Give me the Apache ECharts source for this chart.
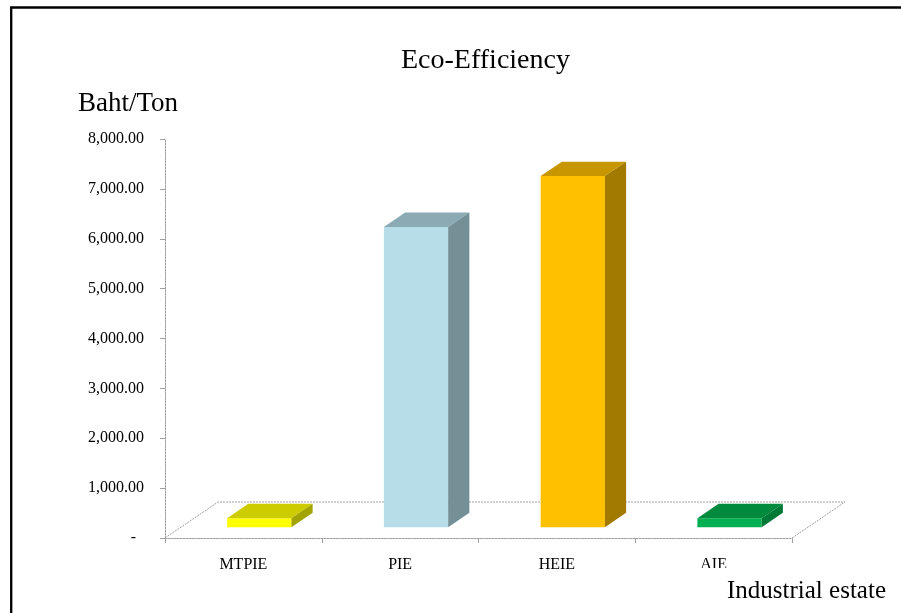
<!DOCTYPE html>
<html>
<head>
<meta charset="utf-8">
<script src="https://cdn.jsdelivr.net/npm/echarts@6.0.0/dist/echarts.min.js"></script>
<style>
  html, body { margin: 0; padding: 0; background: #fff; }
  #main { width: 901px; height: 613px; }
</style>
</head>
<body>
<div id="main"></div>
<script>
// Eco-efficiency per industrial estate (Baht/Ton)
const categories = ['MTPIE', 'PIE', 'HEIE', 'AIE'];
const values = [180, 6020, 7040, 180];
const yMin = 0, yMax = 8000, yStep = 1000;

// front / top / side shading of each column
const faceColors = [
  { front: '#FFFF00', top: '#CCCC00', side: '#A3A300' },
  { front: '#B7DEE8', top: '#8BAAB3', side: '#748F96' },
  { front: '#FFC000', top: '#C89600', side: '#A37A00' },
  { front: '#00B050', top: '#008A3E', side: '#007A36' }
];

const SERIF = '"Liberation Serif", "Times New Roman", serif';
const EDGE = '#a0a0a0';
const DEPTH_X = 53, DEPTH_Y = 36;   // floor depth offset in px
const BAR_D0 = 0.3, BAR_D1 = 0.7;   // column depth span (fraction of floor depth)
const BAR_W = 0.41;                 // column width (fraction of band)

function renderFloor(params, api) {
  const base = api.coord([0, 0]);
  const band = api.size([1, 0])[0];
  const xl = base[0] - band / 2;
  const xr = xl + band * categories.length;
  const y = base[1];
  const bl = [xl + DEPTH_X, y - DEPTH_Y];
  const br = [xr + DEPTH_X, y - DEPTH_Y];
  return {
    type: 'group',
    children: [
      { type: 'polygon', shape: { points: [[xl, y], [xr, y], br, bl] },
        style: { fill: '#fff' } },
      { type: 'polyline', shape: { points: [[xl, y], bl, br, [xr, y]] },
        style: { stroke: EDGE, lineWidth: 1, fill: null, lineDash: [2, 1] } }
    ]
  };
}

function renderBar(params, api) {
  const i = api.value(0);
  const v = api.value(1);
  const base = api.coord([i, 0]);
  const topPt = api.coord([i, v]);
  const bw = api.size([1, 0])[0] * BAR_W;
  const x0 = base[0] - bw / 2 + DEPTH_X * BAR_D0;
  const x1 = x0 + bw;
  const yb = base[1] - DEPTH_Y * BAR_D0;
  const yt = topPt[1] - DEPTH_Y * BAR_D0;
  const dx = DEPTH_X * (BAR_D1 - BAR_D0);
  const dy = DEPTH_Y * (BAR_D1 - BAR_D0);
  const c = faceColors[i];
  return {
    type: 'group',
    children: [
      { type: 'polygon', shape: { points: [[x0, yb], [x1, yb], [x1, yt], [x0, yt]] },
        style: { fill: c.front } },
      { type: 'polygon', shape: { points: [[x0, yt], [x1, yt], [x1 + dx, yt - dy], [x0 + dx, yt - dy]] },
        style: { fill: c.top } },
      { type: 'polygon', shape: { points: [[x1, yb], [x1, yt], [x1 + dx, yt - dy], [x1 + dx, yb - dy]] },
        style: { fill: c.side } }
    ]
  };
}

const chart = echarts.init(document.getElementById('main'), null, { renderer: 'canvas' });

chart.setOption({
  animation: false,
  backgroundColor: '#fff',
  title: {
    text: 'Eco-Efficiency',
    left: 396,
    top: 42,
    textStyle: { fontFamily: SERIF, fontSize: 28, fontWeight: 'normal', color: '#000' }
  },
  grid: { left: 165, right: 109, top: 139, bottom: 75, containLabel: false, outerBoundsMode: 'none' },
  xAxis: {
    type: 'category',
    data: categories,
    boundaryGap: true,
    axisLine: { show: true, lineStyle: { color: EDGE, width: 1, type: [2, 1] } },
    axisTick: { show: true, length: 5, interval: 0, lineStyle: { color: EDGE } },
    axisLabel: { interval: 0, margin: 19, fontFamily: SERIF, fontSize: 16, color: '#000' },
    splitLine: { show: false }
  },
  yAxis: {
    type: 'value',
    min: yMin,
    max: yMax,
    interval: yStep,
    axisLine: { show: true, lineStyle: { color: EDGE, width: 1, type: [2, 1] } },
    axisTick: { show: true, length: 5, lineStyle: { color: EDGE } },
    axisLabel: {
      margin: 21,
      fontFamily: SERIF,
      fontSize: 16,
      color: '#000',
      formatter: function (v) {
        if (v === 0) return '-  ';
        return v.toLocaleString('en-US', { minimumFractionDigits: 2, maximumFractionDigits: 2 });
      }
    },
    splitLine: { show: false }
  },
  series: [
    {
      type: 'custom',
      name: 'floor',
      z: 1,
      silent: true,
      renderItem: renderFloor,
      data: [[0, 0]]
    },
    {
      type: 'custom',
      name: 'Eco-Efficiency',
      z: 2,
      renderItem: renderBar,
      encode: { x: 0, y: 1 },
      data: values.map(function (v, i) { return [i, v]; })
    }
  ],
  graphic: [
    {
      type: 'text',
      left: 78,
      top: 90,
      style: { text: 'Baht/Ton', font: '27px ' + SERIF, fill: '#000' }
    },
    {
      type: 'rect',
      z: 10,
      shape: { x: 690, y: 568, width: 211, height: 45 },
      style: { fill: '#fff' }
    },
    {
      type: 'text',
      z: 11,
      left: 727,
      top: 579,
      style: { text: 'Industrial estate', font: '25px ' + SERIF, fill: '#000' }
    },
    {
      type: 'rect',
      z: 12,
      shape: { x: 11.2, y: 7.5, width: 1000, height: 1000 },
      style: { fill: 'none', stroke: '#000', lineWidth: 2.3 }
    }
  ]
});
</script>
</body>
</html>
